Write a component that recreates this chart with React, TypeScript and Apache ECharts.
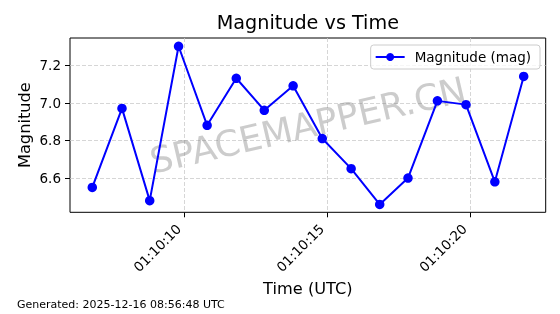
import React, { useEffect, useRef } from "react";
import * as echarts from "echarts";

const timeBase = "01:10:";
const timeSeconds = [6.78, 7.82, 8.79, 9.8, 10.8, 11.82, 12.8, 13.81, 14.83, 15.84, 16.84, 17.83, 18.86, 19.86, 20.87, 21.88];
const magnitudes = [6.55, 6.97, 6.48, 7.3, 6.88, 7.13, 6.96, 7.09, 6.81, 6.65, 6.46, 6.6, 7.01, 6.99, 6.58, 7.14];
const xTickSeconds = [10, 15, 20];
const yTicks = [6.6, 6.8, 7.0, 7.2];
const seriesName = "Magnitude (mag)";
const titleText = "Magnitude vs Time";
const xName = "Time (UTC)";
const yName = "Magnitude";
const footerText = "Generated: 2025-12-16 08:56:48 UTC";
const watermarkText = "SPACEMAPPER.CN";

const FONT = "DejaVu Sans";

export default function App() {
  const ref = useRef<HTMLDivElement>(null);
  useEffect(() => {
    if (!ref.current) return;
    const chart = echarts.init(ref.current, undefined, { renderer: "svg" });
    const gridLeft = 70;
    const gridTop = 38;
    const gridRight = 545.7;
    const gridBottom = 212.3;
    const cx = (gridLeft + gridRight) / 2;
    const cy = (gridTop + gridBottom) / 2;
    const option: any = {
      animation: false,
      grid: {
        left: gridLeft,
        top: gridTop,
        right: 560 - gridRight,
        bottom: 314 - gridBottom,
        show: true,
        borderColor: "#000",
        borderWidth: 1,
        backgroundColor: "transparent",
        containLabel: false,
        outerBoundsMode: "none",
      },
      xAxis: {
        type: "value",
        min: 6.0,
        max: 22.65,
        axisLine: { show: false },
        axisTick: { show: true, customValues: xTickSeconds, length: 5, lineStyle: { color: "#000", width: 1 } },
        axisLabel: {
          customValues: xTickSeconds,
          rotate: 45,
          margin: 8.4,
          padding: [0, 8, 0, 0],
          fontFamily: FONT,
          fontSize: 13.5,
          color: "#000",
          formatter: (v: number) => timeBase + String(Math.round(v)).padStart(2, "0"),
        },
        splitLine: { show: true, lineStyle: { color: "#cccccc", type: [4, 2], width: 0.8 } },
      },
      yAxis: {
        type: "value",
        min: 6.418,
        max: 7.344,
        axisLine: { show: false },
        axisTick: { show: true, customValues: yTicks, length: 5, lineStyle: { color: "#000", width: 1 } },
        axisLabel: {
          customValues: yTicks,
          margin: 9,
          fontFamily: FONT,
          fontSize: 13.5,
          color: "#000",
          formatter: (v: number) => v.toFixed(1),
        },
        splitLine: { show: true, lineStyle: { color: "#cccccc", type: [4, 2], width: 0.8 } },
      },
      legend: {
        show: true,
        right: 20,
        top: 45,
        orient: "vertical",
        itemWidth: 29,
        itemHeight: 10,
        padding: [5, 9, 5, 4],
        backgroundColor: "rgba(255,255,255,0.8)",
        borderColor: "#cccccc",
        borderWidth: 1,
        borderRadius: 3,
        textStyle: { fontFamily: FONT, fontSize: 13.5, color: "#000", padding: [0, 0, 0, 5] },
        data: [seriesName],
      },
      series: [
        {
          type: "line",
          name: seriesName,
          data: timeSeconds.map((t, i) => [t, magnitudes[i]]),
          symbol: "circle",
          symbolSize: 9.5,
          showAllSymbol: true,
          lineStyle: { color: "#0000ff", width: 2 },
          itemStyle: { color: "#0000ff" },
          z: 5,
        },
      ],
      graphic: [
        {
          type: "text",
          x: cx,
          y: cy,
          rotation: (13 * Math.PI) / 180,
          z: 1,
          style: {
            text: watermarkText,
            fill: "rgba(128,128,128,0.4)",
            fontFamily: FONT,
            fontSize: 36,
            align: "center",
            verticalAlign: "middle",
          },
        },
        {
          type: "text",
          x: cx,
          y: 22.7,
          style: { text: titleText, fill: "#000", fontFamily: FONT, fontSize: 19.2, align: "center", verticalAlign: "middle" },
        },
        {
          type: "text",
          x: cx,
          y: 288.4,
          style: { text: xName, fill: "#000", fontFamily: FONT, fontSize: 16.2, align: "center", verticalAlign: "middle" },
        },
        {
          type: "text",
          x: 24.5,
          y: cy,
          rotation: Math.PI / 2,
          style: { text: yName, fill: "#000", fontFamily: FONT, fontSize: 16.2, align: "center", verticalAlign: "middle" },
        },
        {
          type: "text",
          x: 17,
          y: 304.5,
          style: { text: footerText, fill: "#000", fontFamily: FONT, fontSize: 11, align: "left", verticalAlign: "middle" },
        },
      ],
    };
    chart.setOption(option);
    return () => chart.dispose();
  }, []);
  return <div ref={ref} style={{ position: "fixed", left: 0, top: 0, width: 560, height: 314 }} />;
}
